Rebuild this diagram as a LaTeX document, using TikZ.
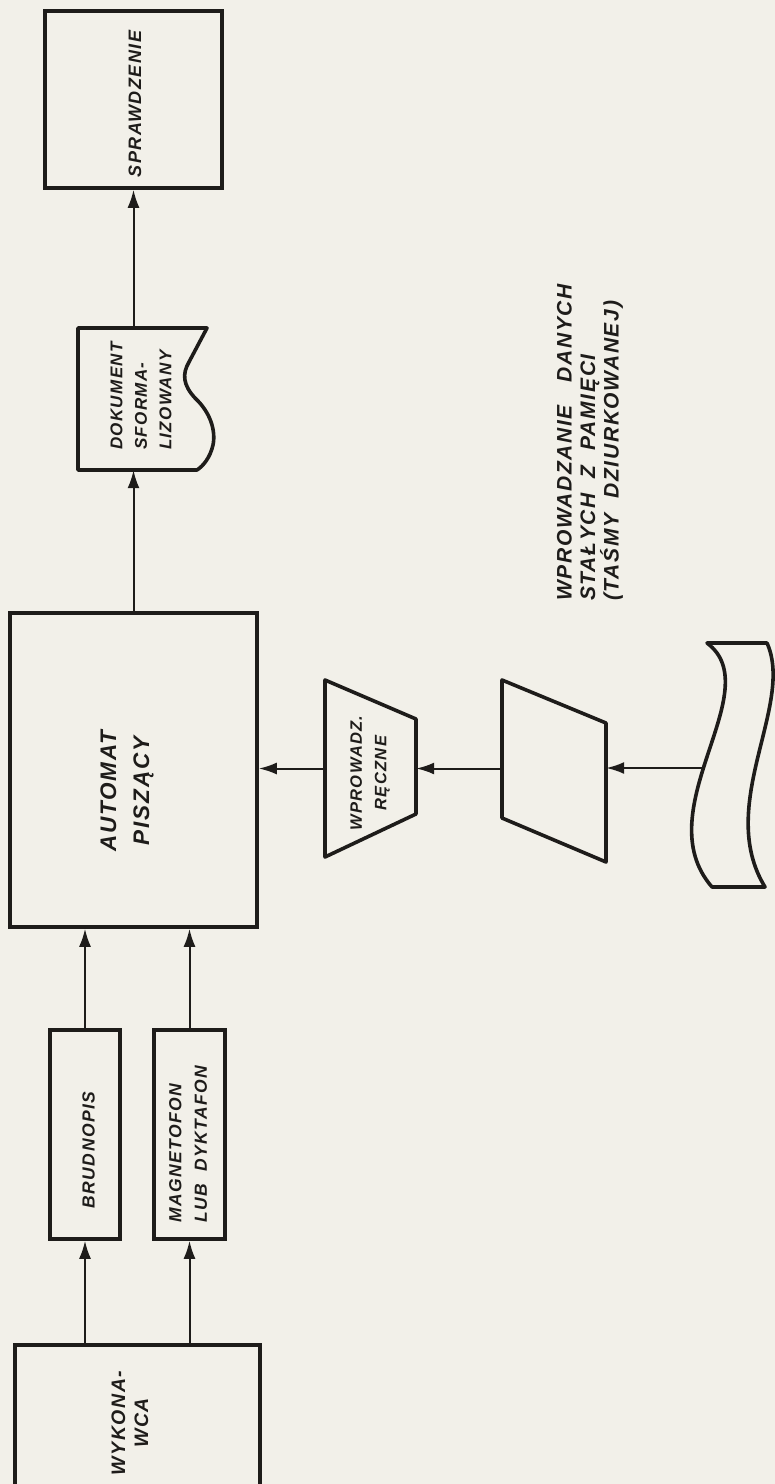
\documentclass[tikz,border=0pt]{standalone}
\usepackage{fontspec}
\setmainfont{Liberation Sans}[LetterSpace=8]
\usetikzlibrary{arrows.meta}
\definecolor{paper}{RGB}{242,240,233}
\definecolor{ink}{RGB}{30,28,26}
\begin{document}
\begin{tikzpicture}[x=1pt,y=-1pt,
  box/.style={draw=ink, line width=3.6pt, inner sep=0pt},
  ghost/.style={inner sep=0pt},
  shp/.style={draw=ink, line width=3.6pt, line join=round},
  arr/.style={draw=ink, line width=2pt, -{Latex[length=18pt,width=12pt]}},
  lab/.style={text=ink, rotate=90, inner sep=0pt}]
\useasboundingbox (0,0) rectangle (775,1484);
\fill[paper] (0,0) rectangle (775,1484);
\begin{scope}
\clip (0,0) rectangle (775,1484);
% boxes
\node[box, minimum width=177pt, minimum height=177pt] (spr) at (133.5,99.5) {};
\node[ghost, minimum width=135pt, minimum height=142pt] (doc) at (145.5,399) {};
\draw[shp] (78,328) -- (207,328) -- (189,362) .. controls (182,374) and (183,385) .. (195,398) .. controls (210,412) and (216,430) .. (213,445) .. controls (210,458) and (203,466) .. (197,470) -- (78,470) -- cycle;
\node[box, minimum width=247pt, minimum height=314pt] (auto) at (133.5,770) {};
\node[box, minimum width=70pt, minimum height=209pt] (brud) at (85,1134.5) {};
\node[box, minimum width=71pt, minimum height=209pt] (mag) at (189.5,1134.5) {};
\node[box, minimum width=245pt, minimum height=160pt] (wyk) at (137.5,1425) {};
% manual operation trapezoid
\node[ghost, minimum width=91pt, minimum height=178pt] (man) at (370.5,768.5) {};
\draw[shp] (325,680) -- (416,719) -- (416,814) -- (325,857) -- cycle;
% manual input quadrilateral
\node[ghost, minimum width=104pt, minimum height=182pt] (inp) at (554,771) {};
\draw[shp] (502,680) -- (606,723) -- (606,862) -- (502,818) -- cycle;
% punched tape
\node[ghost, minimum width=83pt, minimum height=244pt] (tape) at (731,765) {};
\draw[shp] (707,643) -- (767,643) .. controls (795,705) and (715,805) .. (765,887) -- (712,887) .. controls (645,810) and (770,690) .. (707,643) -- cycle;
\coordinate (tapeL) at (704,768);
% connectors
\draw[arr] (auto.north) -- (auto.north |- doc.south);
\draw[arr] (doc.north -| spr.south) -- (spr.south);
\draw[arr] (wyk.north -| brud.south) -- (brud.south);
\draw[arr] (wyk.north -| mag.south) -- (mag.south);
\draw[arr] (brud.north) -- (brud.north |- auto.south);
\draw[arr] (mag.north) -- (mag.north |- auto.south);
\draw[arr] (tapeL) -- (tapeL -| inp.east);
\draw[arr] (inp.west |- man.east) -- (man.east);
\draw[arr] (man.west) -- (man.west -| auto.east);
% labels
\node[lab, font=\bfseries\itshape\fontsize{18}{22}\selectfont] (t-spr) at (135,104) {SPRAWDZENIE};
\node[lab, align=left, font=\bfseries\itshape\fontsize{17}{24.5}\selectfont] (t-doc) at (141,396) {DOKUMENT\\SFORMA-\\LIZOWANY};
\node[lab, align=center, font=\bfseries\itshape\fontsize{22.5}{33}\selectfont] (t-auto) at (127,791) {AUTOMAT\\PISZĄCY};
\node[lab, align=center, font=\bfseries\itshape\fontsize{16.5}{24.5}\selectfont] (t-man) at (370,773) {WPROWADZ.\\RĘCZNE};
\node[lab, font=\bfseries\itshape\fontsize{17.5}{22}\selectfont] (t-brud) at (88.5,1150) {BRUDNOPIS};
\node[lab, anchor=west, align=left, font=\bfseries\itshape\fontsize{17.5}{25.5}\selectfont] (t-mag) at (188,1223) {MAGNETOFON\\LUB\ \ DYKTAFON};
\node[lab, align=center, font=\bfseries\itshape\fontsize{19.5}{23}\selectfont] (t-wyk) at (130,1423) {WYKONA-\\WCA};
\node[lab, anchor=west, align=left, font=\bfseries\itshape\fontsize{21}{23.5}\selectfont] (t-note) at (590,601) {WPROWADZANIE\ \ \ DANYCH\\STAŁYCH\ \ Z\ \ PAMIĘCI\\(TAŚMY\ \ DZIURKOWANEJ)};
\end{scope}
\end{tikzpicture}
\end{document}
